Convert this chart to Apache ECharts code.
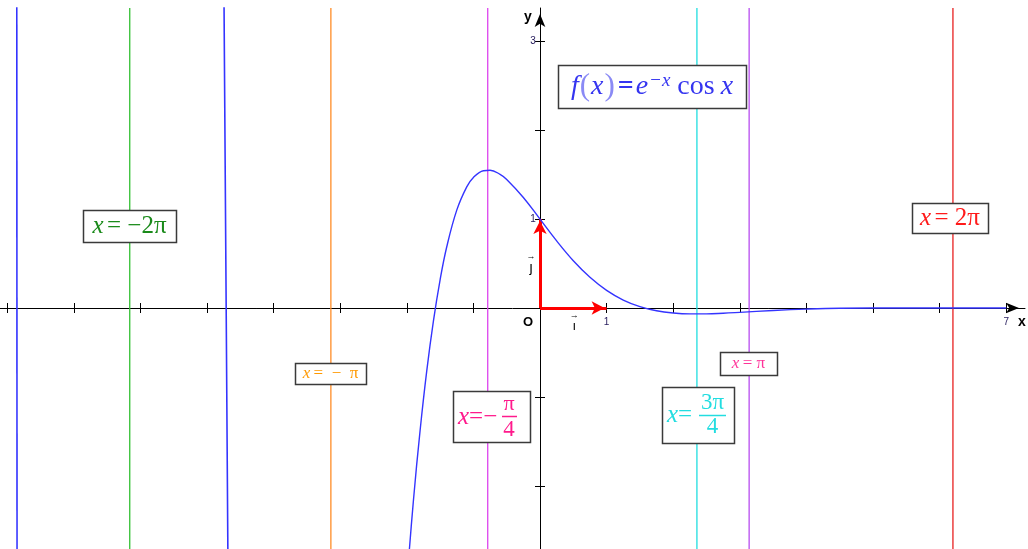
<!DOCTYPE html>
<html>
<head>
<meta charset="utf-8">
<script src="https://cdn.jsdelivr.net/npm/echarts@6/dist/echarts.min.js"></script>
<style>
  html, body { margin: 0; padding: 0; background: #fff; }
  #chart { width: 1028px; height: 549px; }
</style>
</head>
<body>
<div id="chart"></div>
<script>
  // f(x) = e^-x cos x
  var curveX = [-2.0, -1.9, -1.8, -1.7, -1.6, -1.5, -1.4, -1.25, -1.1, -1.0, -0.85, -0.75, -0.6, -0.5, -0.25, 0,
                0.25, 0.5, 0.75, 1.0, 1.25, 1.5, 1.75, 2.0, 2.25, 2.5, 2.75, 3.0, 3.5, 4.0, 4.5, 5.0, 6.0, 7.0];
  var curveY = [-3.08, -2.16, -1.375, -0.705, -0.145, 0.317, 0.689, 1.101, 1.363, 1.469, 1.544, 1.549, 1.504, 1.447, 1.244, 1.0,
                0.755, 0.532, 0.346, 0.199, 0.090, 0.016, -0.031, -0.056, -0.066, -0.066, -0.059, -0.049, -0.028, -0.012, -0.002, 0.0, 0.0, 0.0];
  // the two almost vertical pieces of the curve further left
  var branch1X = [-4.745, -4.712, -4.686];
  var branch1Y = [3.5, 0, -2.8];
  var branch2X = [-7.856, -7.852];
  var branch2Y = [3.5, -2.8];

  // vertical lines x = -2π, -π, -π/4, 3π/4, π, 2π
  var vLineX = [-6.16, -3.14, -0.785, 2.356, 3.14, 6.2];
  var vLineColors = ['#33c033', '#ff8c26', '#dd44ee', '#1fdde0', '#b84cf0', '#e82020'];

  // unit vectors i and j
  var vecI = [[0, 0], [1, 0]];
  var vecJ = [[0, 0], [0, 1]];

  var xTicks = [-8, -7, -6, -5, -4, -3, -2, -1, 1, 2, 3, 4, 5, 6, 7];
  var yTicks = [-2, -1, 1, 2, 3];
  var xLabels = [1, 7];
  var yLabels = [1, 3];

  var X_MIN = -8.108, X_MAX = 7.282, Y_MIN = -2.711, Y_MAX = 3.375;
  var SERIF = "'Liberation Serif', 'DejaVu Serif', serif";
  var SANS = "'Liberation Sans', Arial, sans-serif";
  var CURVE = '#3434ff';

  function zip(a, b) { return a.map(function (v, i) { return [v, b[i]]; }); }

  var chartDom = document.getElementById('chart');
  var myChart = echarts.init(chartDom);

  function axisX(inside, main) {
    return {
      type: 'value', min: X_MIN, max: X_MAX, position: 'bottom',
      axisLine: main
        ? { onZero: true, onZeroAxisIndex: 0, symbol: ['none', 'arrow'], symbolSize: [8, 13], symbolOffset: [0, -6],
            lineStyle: { color: '#000', width: 1 } }
        : { show: false, onZero: true, onZeroAxisIndex: 0 },
      axisTick: { show: true, inside: inside, length: 5, customValues: xTicks, lineStyle: { color: '#000' } },
      axisLabel: { show: false },
      splitLine: { show: false }
    };
  }
  function axisY(inside, main) {
    return {
      type: 'value', min: Y_MIN, max: Y_MAX, position: 'left',
      axisLine: main
        ? { onZero: true, onZeroAxisIndex: 0, symbol: ['none', 'arrow'], symbolSize: [8, 13], symbolOffset: [0, -6],
            lineStyle: { color: '#000', width: 1 } }
        : { show: false, onZero: true, onZeroAxisIndex: 0 },
      axisTick: { show: true, inside: inside, length: 5, customValues: yTicks, lineStyle: { color: '#000' } },
      axisLabel: { show: false },
      splitLine: { show: false }
    };
  }

  var series = [];
  // vertical lines first, so the curve sits on top
  vLineX.forEach(function (x, i) {
    series.push({
      name: 'v' + i, type: 'line', data: [[x, Y_MIN], [x, Y_MAX]], z: 3,
      showSymbol: false, clip: true, silent: true,
      itemStyle: { color: vLineColors[i] },
      lineStyle: { color: vLineColors[i], width: 1.3, type: 'solid' }
    });
  });
  series.push(
    {
      name: 'f', type: 'line', data: zip(curveX, curveY), smooth: 0.4,
      showSymbol: false, clip: true, z: 5, silent: true,
      lineStyle: { color: CURVE, width: 1.4 }
    },
    {
      name: 'branch1', type: 'line', data: zip(branch1X, branch1Y), showSymbol: false, clip: true, z: 5, silent: true,
      lineStyle: { color: CURVE, width: 1.6 }
    },
    {
      name: 'branch2', type: 'line', data: zip(branch2X, branch2Y), showSymbol: false, clip: true, z: 5, silent: true,
      lineStyle: { color: CURVE, width: 1.6 }
    },
    {
      name: 'vectors', type: 'line', data: [], z: 6, color: '#ff0000',
      markLine: {
        silent: true, symbol: ['none', 'arrow'], symbolSize: [10, 13], symbolOffset: [0, [0, 2]],
        label: { show: false }, emphasis: { disabled: true },
        lineStyle: { color: '#ff0000', width: 3, type: 'solid' },
        data: [
          [{ coord: vecI[0] }, { coord: vecI[1] }],
          [{ coord: vecJ[0] }, { coord: vecJ[1] }]
        ]
      }
    }
  );

  var option = {
    backgroundColor: '#fff',
    animation: false,
    grid: { left: 0, right: 3, top: 8, bottom: 0, outerBoundsMode: 'none' },
    xAxis: [axisX(false, true), axisX(true, false)],
    yAxis: [axisY(false, true), axisY(true, false)],
    series: series
  };

  myChart.setOption(option);

  function px(x, y) { return myChart.convertToPixel({ gridIndex: 0 }, [x, y]); }

  function rs(color, size) {
    return {
      i: { fontStyle: 'italic', fontFamily: SERIF, fontSize: size, fill: color },
      n: { fontFamily: SERIF, fontSize: size, fill: color }
    };
  }
  function txt(x, y, text, rich, align) {
    return { type: 'text', x: x, y: y, z: 51,
             style: { text: text, rich: rich, align: align || 'center', verticalAlign: 'middle' } };
  }
  function box(cx, cy, w, h, kids) {
    return {
      type: 'group', x: Math.round(cx - w / 2), y: Math.round(cy - h / 2), z: 50,
      children: [{ type: 'rect', z: 50, shape: { x: 0.5, y: 0.5, width: w, height: h },
                   style: { fill: '#fff', stroke: '#3a3a3a', lineWidth: 1.5 } }].concat(kids)
    };
  }
  function bar(x1, x2, y, color) {
    return { type: 'line', z: 51, shape: { x1: x1, y1: y, x2: x2, y2: y }, style: { stroke: color, lineWidth: 1.5 } };
  }
  var plain = function (color, size, weight, fam) {
    return { t: { fontFamily: fam || SANS, fontSize: size, fontWeight: weight || 'normal', fill: color } };
  };

  var o = px(0, 0);
  var g = [];

  // tick labels
  xLabels.forEach(function (v) {
    var p = px(v, 0);
    g.push(txt(p[0], p[1] + 14, '{t|' + v + '}', plain('#2a2060', 10)));
  });
  yLabels.forEach(function (v) {
    var p = px(0, v);
    g.push(txt(p[0] - 7, p[1], '{t|' + v + '}', plain('#2a2060', 10)));
  });

  // axis names and origin
  g.push(txt(o[0] - 12, o[1] + 14, '{t|O}', plain('#000', 13, 'bold')));
  g.push(txt(1022, o[1] + 14, '{t|x}', plain('#000', 14, 'bold')));
  g.push(txt(o[0] - 12, 17, '{t|y}', plain('#000', 14, 'bold')));

  // vector names
  var pi1 = px(0.5, 0), pj1 = px(0, 0.5);
  g.push(txt(pi1[0] + 1, o[1] + 8, '{t|→}', plain('#000', 9)));
  g.push(txt(pi1[0] + 1, o[1] + 18, '{t|ı}', plain('#000', 13)));
  g.push(txt(pj1[0] - 9, pj1[1] - 7, '{t|→}', plain('#000', 9)));
  g.push(txt(pj1[0] - 9, pj1[1] + 5, '{t|ȷ}', plain('#000', 14)));

  // f(x) = e^-x cos x
  var fr = rs('#3535f0', 28);
  fr.s = { fontStyle: 'italic', fontFamily: SERIF, fontSize: 19, fill: '#3535f0', verticalAlign: 'top', padding: [0, 7, 0, 1] };
  fr.p = { fontFamily: SERIF, fontSize: 31, fill: '#8a8af5', padding: [0, 1, 0, 1] };
  fr.e = { fontFamily: SERIF, fontSize: 28, fontWeight: 'bold', fill: '#3535f0', padding: [0, 2, 0, 2] };
  fr.c = { fontFamily: SERIF, fontSize: 28, fill: '#3535f0', padding: [0, 6, 0, 0] };
  g.push(box(652, 86.5, 188, 43, [
    txt(94, 22, '{i|f}{p|(}{i|x}{p|)}{e|=}{i|e}{s|−x}{c|cos}{i|x}', fr)
  ]));

  // x = -2π
  var c = px(vLineX[0], 0);
  g.push(box(c[0], 226, 93, 32, [txt(46.5, 16, '{i|x} {n|= −2π}', rs('#1a8a1a', 25))]));
  // x = 2π
  c = px(vLineX[5], 0);
  g.push(box(c[0] - 3, 218, 76, 30, [txt(38, 15, '{i|x} {n|= 2π}', rs('#ff1a1a', 25))]));
  // x = -π
  c = px(vLineX[1], 0);
  g.push(box(c[0], 373.5, 71, 21, [txt(35.5, 10.5, '{i|x} {n|=  −  π}', rs('#ff9900', 17))]));
  // x = π
  c = px(vLineX[4], 0);
  g.push(box(c[0] - 1, 363.5, 57, 23, [txt(28.5, 11.5, '{i|x} {n|= π}', rs('#ff3399', 17))]));
  // x = -π/4
  c = px(vLineX[2], 0);
  var pink = '#ff1a8c';
  g.push(box(c[0] + 4, 416.5, 77, 51, [
    txt(5, 26, '{i|x}{n|=−}', rs(pink, 25), 'left'),
    txt(56, 13, '{n|π}', rs(pink, 22)),
    bar(49, 64, 25.5, pink),
    txt(56, 38.5, '{n|4}', rs(pink, 23))
  ]));
  // x = 3π/4
  c = px(vLineX[3], 0);
  var cyan = '#22dde0';
  g.push(box(c[0] + 1, 415, 72, 56, [
    txt(5, 28, '{i|x}{n|=}', rs(cyan, 25), 'left'),
    txt(50.5, 15.5, '{n|3π}', rs(cyan, 23)),
    bar(37, 64, 28.5, cyan),
    txt(50.5, 40, '{n|4}', rs(cyan, 23))
  ]));

  myChart.setOption({ graphic: g });
</script>
</body>
</html>
